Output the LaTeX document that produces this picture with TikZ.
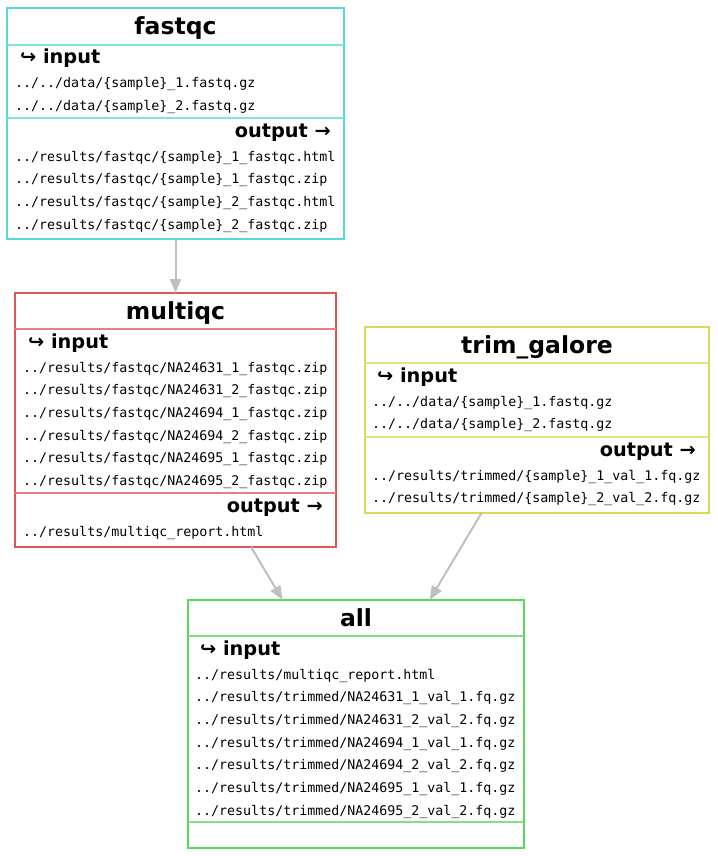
\documentclass[tikz,border=0pt]{standalone}
\usepackage{fontspec}
\setmainfont{DejaVu Sans}
\newfontfamily\pathfont{DejaVu Sans Mono}
\usetikzlibrary{positioning,arrows.meta}

\begin{document}
\begin{tikzpicture}[x=1pt,y=-1pt]
  % some colors
  \definecolor{fastqccol}{RGB}{87,217,217}
  \definecolor{multiqccol}{RGB}{217,87,87}
  \definecolor{trimcol}{RGB}{217,217,87}
  \definecolor{allcol}{RGB}{87,217,87}
  \colorlet{links}{black!25}
  % some styles
  \tikzset{
    rulebox/.style={
      rectangle,
      draw=#1,
      line width=2.3pt,
      inner sep=0pt,
      outer sep=0pt,
    },
    divider/.style={draw=#1!75!white,line width=1.1pt},
    rulename/.style={anchor=base,inner sep=0pt,
      font=\fontsize{23.5}{26}\selectfont\bfseries},
    inhead/.style={anchor=base west,inner sep=0pt,
      font=\fontsize{19.3}{22}\selectfont\bfseries},
    outhead/.style={anchor=base east,inner sep=0pt,
      font=\fontsize{19.3}{22}\selectfont\bfseries},
    pathtext/.style={anchor=base west,inner sep=0pt,
      font=\pathfont\fontsize{13.3}{15}\selectfont},
    link/.style={-{Triangle[length=14pt,width=11pt]},links,line width=2pt},
  }
  \useasboundingbox (0,0) rectangle (717,856);

  % fastqc
  \node[rulebox=fastqccol,minimum width=337,minimum height=231] (fastqc) at (175.5,123.5) {};
  \node[rulename] (fastqc-name) at (175.5,35) {fastqc};
  \draw[divider=fastqccol] (fastqc.west |- 0,45) -- (fastqc.east |- 0,45);
  \node[inhead] (fastqc-in) at (20,64) {↪ input};
  \foreach \f [count=\i from 0] in {../../data/\{sample\}\_1.fastq.gz,
                                    ../../data/\{sample\}\_2.fastq.gz}
    \node[pathtext] (fastqc-in-\i) at (15,88+22.7*\i) {\f};
  \draw[divider=fastqccol] (fastqc.west |- 0,118) -- (fastqc.east |- 0,118);
  \node[outhead] (fastqc-out) at (331,137) {output →};
  \foreach \f [count=\i from 0] in {../results/fastqc/\{sample\}\_1\_fastqc.html,
                                    ../results/fastqc/\{sample\}\_1\_fastqc.zip,
                                    ../results/fastqc/\{sample\}\_2\_fastqc.html,
                                    ../results/fastqc/\{sample\}\_2\_fastqc.zip}
    \node[pathtext] (fastqc-out-\i) at (15,161+22.7*\i) {\f};

  % multiqc
  \node[rulebox=multiqccol,minimum width=321,minimum height=254] (multiqc) at (175.5,420) {};
  \node[rulename] (multiqc-name) at (175.5,319) {multiqc};
  \draw[divider=multiqccol] (multiqc.west |- 0,329) -- (multiqc.east |- 0,329);
  \node[inhead] (multiqc-in) at (28,348) {↪ input};
  \foreach \s [count=\i from 0] in {NA24631\_1,NA24631\_2,NA24694\_1,
                                    NA24694\_2,NA24695\_1,NA24695\_2}
    \node[pathtext] (multiqc-in-\i) at (23,372+22.7*\i) {../results/fastqc/\s\_fastqc.zip};
  \draw[divider=multiqccol] (multiqc.west |- 0,493) -- (multiqc.east |- 0,493);
  \node[outhead] (multiqc-out) at (323,512) {output →};
  \node[pathtext] (multiqc-out-0) at (23,536) {../results/multiqc\_report.html};

  % trim_galore
  \node[rulebox=trimcol,minimum width=344,minimum height=186] (trim) at (537,420) {};
  \node[rulename] (trim-name) at (537,353) {trim\_galore};
  \draw[divider=trimcol] (trim.west |- 0,363) -- (trim.east |- 0,363);
  \node[inhead] (trim-in) at (377,382) {↪ input};
  \foreach \f [count=\i from 0] in {../../data/\{sample\}\_1.fastq.gz,
                                    ../../data/\{sample\}\_2.fastq.gz}
    \node[pathtext] (trim-in-\i) at (372,406+22.7*\i) {\f};
  \draw[divider=trimcol] (trim.west |- 0,437) -- (trim.east |- 0,437);
  \node[outhead] (trim-out) at (696,456) {output →};
  \foreach \f [count=\i from 0] in {../results/trimmed/\{sample\}\_1\_val\_1.fq.gz,
                                    ../results/trimmed/\{sample\}\_2\_val\_2.fq.gz}
    \node[pathtext] (trim-out-\i) at (372,480+22.7*\i) {\f};

  % all
  \node[rulebox=allcol,minimum width=336,minimum height=248] (all) at (356,724) {};
  \node[rulename] (all-name) at (356,626) {all};
  \draw[divider=allcol] (all.west |- 0,636) -- (all.east |- 0,636);
  \node[inhead] (all-in) at (200,655) {↪ input};
  \node[pathtext] (all-in-0) at (195,679) {../results/multiqc\_report.html};
  \foreach \s [count=\i from 1] in {NA24631\_1\_val\_1,NA24631\_2\_val\_2,
                                    NA24694\_1\_val\_1,NA24694\_2\_val\_2,
                                    NA24695\_1\_val\_1,NA24695\_2\_val\_2}
    \node[pathtext] (all-in-\i) at (195,679+22.7*\i) {../results/trimmed/\s.fq.gz};
  \draw[divider=allcol] (all.west |- 0,822) -- (all.east |- 0,822);

  % links between rules
  \draw[link] (fastqc) -- (multiqc);
  \draw[link] (multiqc) -- (all);
  \draw[link] (trim) -- (all);
\end{tikzpicture}
\end{document}
